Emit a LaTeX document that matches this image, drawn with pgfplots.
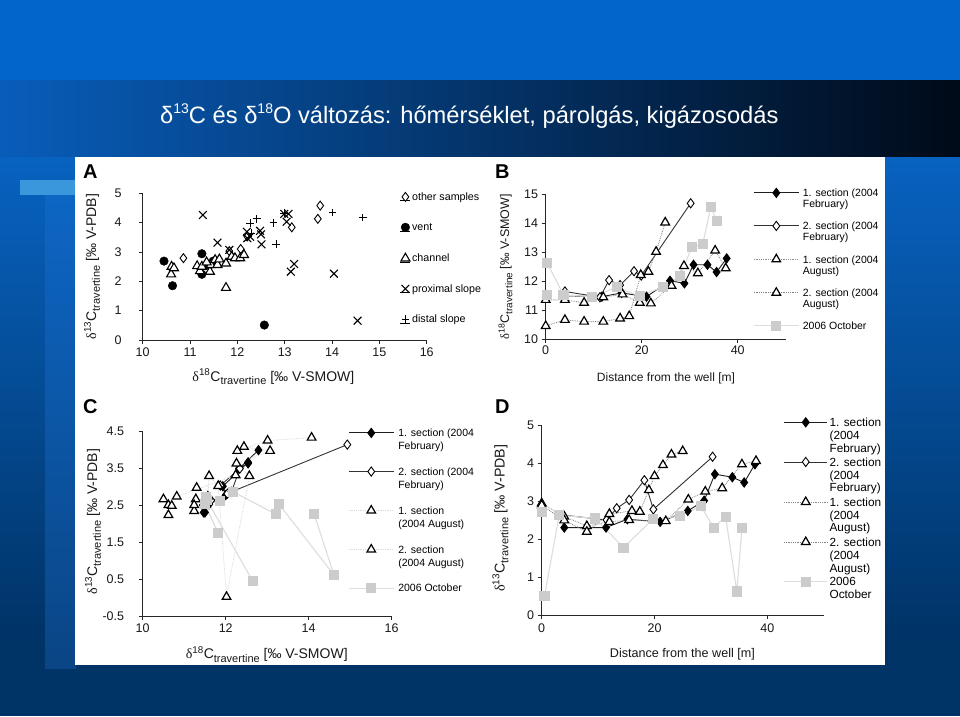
\documentclass[border=0pt]{standalone}
\usepackage{pgfplots}
\pgfplotsset{compat=1.18}
\usepackage{fontspec}
\setmainfont{Liberation Sans}
\newfontfamily\grk{Liberation Serif}
\definecolor{bgA}{HTML}{0066CC}
\definecolor{bandL}{HTML}{085DBA}
\definecolor{bandM}{HTML}{023E80}
\definecolor{bandR}{HTML}{000A18}
\definecolor{bgT}{HTML}{0862C0}
\definecolor{bgB}{HTML}{003366}
\definecolor{stripT}{HTML}{0D66C4}
\definecolor{stripB}{HTML}{0A4585}
\definecolor{lightbar}{HTML}{3A97DC}
\definecolor{octc}{HTML}{CCCCCC}
\definecolor{octl}{HTML}{DDDDDD}
\newcommand{\dlab}[4]{\fontsize{#3}{#3}\selectfont{\grk δ}\textsuperscript{#1}C\raisebox{-0.27em}{\fontsize{#4}{#4}\selectfont travertine} [‰ #2]}
\newcommand{\tsup}[1]{\raisebox{0.42em}{\fontsize{14}{14}\selectfont #1}}
\pgfplotsset{
  panel/.style={
    scale only axis, anchor=south west, clip=false,
    axis lines=left, axis line style={-, line width=0.9pt, black!85},
    tick align=outside, major tick length=4pt,
    tick style={line width=0.8pt, black!85},
    tick label style={font=\fontsize{12.5}{13}\selectfont, inner sep=0pt, text=black!90},
    every axis label/.append style={inner sep=0pt, text=black!90},
  },
  lineleg/.style={
    legend image code/.code={\draw[mark repeat=2,mark phase=2,##1] plot coordinates {(0pt,-4pt) (22.5pt,-4pt) (45pt,-4pt)};},
  },
  s1feb/.style={color=black!88, line width=0.9pt, mark=diamond*, mark size=4.6pt, mark options={solid, fill=black, draw=black}},
  s2feb/.style={color=black!80, line width=0.9pt, mark=diamond*, mark size=4.6pt, mark options={solid, fill=white, draw=black, line width=0.9pt}},
  s1aug/.style={color=black!45, densely dotted, line width=0.8pt, mark=triangle*, mark size=5pt, mark options={solid, fill=white, draw=black, line width=1.2pt}},
  s2aug/.style={color=black!50, densely dotted, line width=0.8pt, mark=triangle*, mark size=5pt, mark options={solid, fill=white, draw=black, line width=1.2pt}},
  oct/.style={color=octl, line width=1.1pt, mark=square*, mark size=4.5pt, mark options={solid, fill=octc, draw=octc}},
}
\begin{document}
\begin{tikzpicture}
\useasboundingbox (0pt,0pt) rectangle (960pt,-716pt);
% background
\fill[bgA] (0pt,0pt) rectangle (960pt,-80pt);
\shade[left color=bandL, middle color=bandM, right color=bandR] (0pt,-80pt) rectangle (960pt,-157pt);
\shade[top color=bgT, bottom color=bgB] (0pt,-157pt) rectangle (960pt,-640pt);
\fill[bgB] (0pt,-640pt) rectangle (960pt,-716pt);
\shade[top color=stripT, bottom color=stripB] (45pt,-195pt) rectangle (76pt,-668pt);
\fill[lightbar] (20pt,-180pt) rectangle (76pt,-195pt);
\fill[white] (75pt,-157pt) rectangle (885pt,-665pt);
\node[anchor=base west, text=white, inner sep=0pt, font=\fontsize{23.7}{24}\selectfont] at (160pt,-123pt)
  {δ\tsup{13}C és δ\tsup{18}O változás: hőmérséklet, párolgás, kigázosodás};
\node[anchor=base west, inner sep=0pt, font=\fontsize{20}{20}\selectfont\bfseries] at (83pt,-178.3pt) {A};
\node[anchor=base west, inner sep=0pt, font=\fontsize{20}{20}\selectfont\bfseries] at (495pt,-178.3pt) {B};
\node[anchor=base west, inner sep=0pt, font=\fontsize{20}{20}\selectfont\bfseries] at (83pt,-413pt) {C};
\node[anchor=base west, inner sep=0pt, font=\fontsize{20}{20}\selectfont\bfseries] at (495pt,-413pt) {D};

% ---------------- A ----------------
\begin{axis}[panel, at={(142.7pt,-340pt)}, width=284pt, height=146.7pt,
  xmin=10, xmax=16, ymin=0, ymax=5,
  xtick={10,11,12,13,14,15,16}, xticklabels={10,11,12,13,14,15,16},
  ytick={0,1,2,3,4,5}, yticklabels={0,1,2,3,4,5},
  yticklabel shift=17pt, xticklabel shift=3.2pt,
  xlabel={\dlab{18}{V-SMOW}{14}{11}}, xlabel style={at={(axis description cs:0.46,-0.2795)}, anchor=base},
  ylabel={\dlab{13}{V-PDB}{14}{11}}, ylabel style={at={(axis description cs:-0.1785,0.5)}, anchor=center},
  legend image code/.code={\path (0pt,0pt) -- (10pt,0pt); \draw[#1] plot coordinates {(5pt,3.5pt)};},
  legend style={at={(axis description cs:0.906,1.0075)}, anchor=north west, draw=none, fill=none, inner sep=0pt,
    row sep=19.9pt, column sep=1.5pt, font=\fontsize{10.7}{12}\selectfont, cells={anchor=base west},
    nodes={inner sep=0pt, text height=8pt, text depth=2.5pt}},
]
\addplot[only marks, mark=diamond*, mark size=4.5pt, mark options={fill=white, draw=black, line width=0.9pt}] coordinates {
(10.86,2.79) (11.83,3.03) (12.07,3.10) (12.21,3.53) (13.15,3.84) (13.75,4.58) (13.70,4.13)};
\addlegendentry{other samples}
\addplot[only marks, mark=*, mark size=4.3pt, mark options={fill=black, draw=black}] coordinates {
(10.45,2.69) (10.63,1.85) (11.25,2.94) (11.25,2.24) (11.40,2.55) (11.49,2.69) (12.57,0.51)};
\addlegendentry{vent}
\addplot[only marks, mark=triangle*, mark size=5.2pt, mark options={fill=white, draw=black, line width=1.1pt}] coordinates {
(10.61,2.50) (10.60,2.24) (10.66,2.45) (11.15,2.52) (11.21,2.35) (11.25,2.50) (11.42,2.33) (11.44,2.56)
(11.53,2.73) (11.58,2.56) (11.76,2.61) (11.76,1.78) (11.88,2.84) (11.95,2.79) (12.06,2.79) (12.14,2.90)
(11.35,2.65) (11.62,2.75)};
\addlegendentry{channel}
\addplot[only marks, mark=x, mark size=5.5pt, mark options={draw=black, line width=1.1pt}] coordinates {
(11.27,4.26) (11.58,3.32) (11.83,3.07) (12.20,3.69) (12.21,3.47) (12.27,3.52) (12.48,3.72) (12.50,3.60)
(12.51,3.26) (12.99,4.30) (13.08,4.30) (13.04,4.03) (13.20,2.59) (13.13,2.33) (14.04,2.26) (14.54,0.66)};
\addlegendentry{proximal slope}
\addplot[only marks, mark=+, mark size=3.8pt, mark options={draw=black, line width=1.1pt}] coordinates {
(12.27,3.98) (12.41,4.13) (12.76,3.99) (12.82,3.27) (12.99,4.32) (14.01,4.35) (14.65,4.17) (12.30,3.64)};
\addlegendentry{distal slope}
\end{axis}

% ---------------- B ----------------
\begin{axis}[panel, lineleg, at={(545.7pt,-339.3pt)}, width=240pt, height=145pt,
  xmin=0, xmax=50, ymin=10, ymax=15,
  xtick={0,20,40}, xticklabels={0,20,40},
  ytick={10,11,12,13,14,15}, yticklabels={10,11,12,13,14,15},
  yticklabel shift=3.4pt, xticklabel shift=2.2pt,
  xlabel={Distance from the well [m]}, xlabel style={font=\fontsize{12}{12}\selectfont, at={(axis description cs:0.501,-0.2876)}, anchor=base},
  ylabel={\dlab{18}{V-SMOW}{12.5}{10}}, ylabel style={at={(axis description cs:-0.1675,0.5)}, anchor=center},
  legend style={at={(axis description cs:0.864,1.0428)}, anchor=north west, draw=none, fill=none, inner sep=0pt,
    row sep=12.1pt, column sep=3.5pt, font=\fontsize{10.5}{11}\selectfont, cells={anchor=north west, align=left},
    nodes={inner sep=0pt}},
]
\addplot[s1feb] coordinates {(4,11.5) (11.7,11.47) (15.8,11.6) (21,11.47) (25.9,12.02) (28.9,11.93) (30.8,12.57) (33.7,12.57) (35.6,12.32) (37.7,12.79)};
\addlegendentry{1. section (2004\\February)}
\addplot[s2feb] coordinates {(4,11.65) (11.3,11.45) (13.2,12.04) (15.5,11.87) (18.4,12.35) (19.9,12.2) (30.2,14.69)};
\addlegendentry{2. section (2004\\February)}
\addplot[s1aug] coordinates {(0,11.36) (4,11.36) (8,11.26) (12,11.45) (16,11.55) (19.6,11.26) (21.9,11.24) (26.2,11.85) (28.8,12.53) (31.7,12.28) (35.3,13.06) (37.5,12.45)};
\addlegendentry{1. section (2004\\August)}
\addplot[s2aug] coordinates {(0,10.46) (4,10.67) (8,10.61) (12,10.61) (15.5,10.72) (17.4,10.8) (19.8,12.22) (21.4,12.33) (23,13.02) (24.9,14.03)};
\addlegendentry{2. section (2004\\August)}
\addplot[oct] coordinates {(0.3,12.64) (3.7,11.53) (9.7,11.47) (14.8,11.79) (19.6,11.49) (24.5,11.81) (28,12.18) (30.4,13.17) (32.7,13.28) (34.4,14.57) (35.6,14.09)};
\addlegendentry{2006 October}
\addplot[oct, only marks, forget plot] coordinates {(0.2,11.52)};
\end{axis}

% ---------------- C ----------------
\begin{axis}[panel, lineleg, at={(142.7pt,-616pt)}, width=249pt, height=184.3pt,
  xmin=10, xmax=16, ymin=-0.5, ymax=4.5,
  xtick={10,12,14,16}, xticklabels={10,12,14,16},
  ytick={-0.5,0.5,1.5,2.5,3.5,4.5}, yticklabels={-0.5,0.5,1.5,2.5,3.5,4.5},
  yticklabel shift=14.4pt, xticklabel shift=3.8pt,
  xlabel={\dlab{18}{V-SMOW}{14}{11}}, xlabel style={at={(axis description cs:0.498,-0.2295)}, anchor=base},
  ylabel={\dlab{13}{V-PDB}{14}{11}}, ylabel style={at={(axis description cs:-0.1996,0.5117)}, anchor=center},
  legend style={at={(axis description cs:0.8245,1.0195)}, anchor=north west, draw=none, fill=none, inner sep=0pt,
    row sep=16.0pt, column sep=4pt, font=\fontsize{10.5}{12.7}\selectfont, cells={anchor=north west, align=left},
    nodes={inner sep=0pt}},
]
\addplot[s1feb] coordinates {(11.5,2.31) (11.47,2.31) (11.6,2.53) (11.47,2.46) (12.0,2.78) (11.93,3.02) (12.54,3.67) (12.54,3.64) (12.32,3.5) (12.79,4.0)};
\addlegendentry{1. section (2004\\February)}
\addplot[s2feb] coordinates {(11.65,2.64) (11.45,2.51) (12.04,2.82) (11.87,3.04) (12.34,3.5) (12.14,2.87) (14.93,4.15)};
\addlegendentry{2. section (2004\\February)}
\addplot[s1aug, color=black!15] coordinates {(11.30,2.98) (11.28,2.67) (11.24,2.35) (11.24,2.51) (11.57,2.74) (11.60,3.30) (11.82,3.03) (12.02,0.02) (12.57,3.30) (12.26,3.64) (13.07,3.98) (12.44,4.09)};
\addlegendentry{1. section\\(2004 August)}
\addplot[s2aug, color=black!15] coordinates {(10.50,2.67) (10.62,2.51) (10.62,2.24) (10.70,2.49) (10.82,2.74) (12.24,3.32) (12.28,3.98) (13.01,4.26) (14.07,4.34)};
\addlegendentry{2. section\\(2004 August)}
\addplot[oct] coordinates {(12.65,0.45) (11.55,2.64) (11.5,2.55) (11.81,1.76) (11.5,2.53) (11.86,2.62) (12.18,2.87) (13.21,2.26) (13.28,2.54) (14.61,0.61) (14.13,2.27)};
\addlegendentry{2006 October}
\addplot[oct, only marks, forget plot] coordinates {(11.52,2.73)};
\end{axis}

% ---------------- D ----------------
\begin{axis}[panel, at={(541.7pt,-615pt)}, width=282pt, height=189.3pt,
  xmin=0, xmax=50, ymin=0, ymax=5,
  xtick={0,20,40}, xticklabels={0,20,40},
  ytick={0,1,2,3,4,5}, yticklabels={0,1,2,3,4,5},
  yticklabel shift=3.4pt, xticklabel shift=4.2pt,
  xlabel={Distance from the well [m]}, xlabel style={font=\fontsize{12.6}{12.6}\selectfont, at={(axis description cs:0.499,-0.224)}, anchor=base},
  ylabel={\dlab{13}{V-PDB}{14.2}{11}}, ylabel style={at={(axis description cs:-0.146,0.511)}, anchor=center},
  legend image code/.code={\draw[mark repeat=2,mark phase=2,#1] plot coordinates {(0pt,-4.4pt) (21.7pt,-4.4pt) (43.4pt,-4.4pt)};},
  legend style={at={(axis description cs:0.8567,1.0433)}, anchor=north west, draw=none, fill=none, inner sep=0pt,
    row sep=3.6pt, column sep=1.6pt, font=\fontsize{11.8}{12.8}\selectfont, cells={anchor=north west, align=left},
    nodes={inner sep=0pt}},
]
\addplot[s1feb] coordinates {(4,2.31) (11.4,2.31) (15.2,2.53) (21.0,2.46) (25.9,2.75) (28.8,3.02) (30.7,3.72) (33.8,3.64) (35.9,3.50) (37.8,3.98)};
\addlegendentry{1. section\\(2004\\February)}
\addplot[s2feb] coordinates {(3.8,2.64) (11.5,2.51) (13.3,2.82) (15.5,3.04) (18.2,3.56) (19.8,2.79) (30.3,4.18)};
\addlegendentry{2. section\\(2004\\February)}
\addplot[s1aug] coordinates {(0,2.95) (4,2.6) (8,2.35) (12,2.46) (15.5,2.51) (22,2.48) (26,3.05) (29,3.26) (32,3.35) (35.5,3.98) (38,4.07)};
\addlegendentry{1. section\\(2004\\August)}
\addplot[s2aug] coordinates {(0,2.9) (4,2.5) (8,2.2) (12,2.67) (16,2.75) (17.4,2.73) (19,3.3) (20,3.67) (21.5,3.96) (23,4.24) (25,4.33)};
\addlegendentry{2. section\\(2004\\August)}
\addplot[oct] coordinates {(0.5,0.5) (3.1,2.64) (9.5,2.55) (14.5,1.78) (19.7,2.53) (24.5,2.61) (28.2,2.88) (30.5,2.31) (32.6,2.6) (34.6,0.62) (35.5,2.29)};
\addlegendentry{2006\\October}
\addplot[oct, only marks, forget plot] coordinates {(0,2.73)};
\end{axis}
\end{tikzpicture}
\end{document}
